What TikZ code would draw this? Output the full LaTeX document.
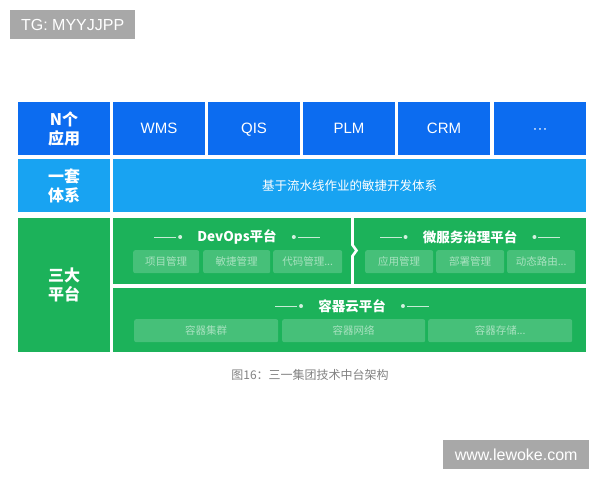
\documentclass[tikz,border=0pt]{standalone}
\usepackage{fontspec}
\setmainfont{Noto Sans CJK SC}
\newfontfamily\wmfont{Liberation Sans}
\definecolor{blueA}{RGB}{12,108,240}
\definecolor{blueB}{RGB}{24,163,242}
\definecolor{gr}{RGB}{28,178,90}
\definecolor{subf}{RGB}{70,192,121}
\definecolor{subt}{RGB}{168,226,192}
\definecolor{wmgray}{RGB}{168,168,168}
\definecolor{capgray}{RGB}{130,130,130}
\tikzset{
  cell/.style={anchor=north west, inner sep=0pt, outer sep=0pt, text=white, align=center},
  app/.style={cell, fill=blueA, minimum width=92pt, minimum height=53pt, text height=10.8pt, text depth=0pt, font=\wmfont\fontsize{15}{17}\selectfont},
  side/.style={cell, minimum width=92pt, font=\fontsize{16}{19}\selectfont\bfseries},
  subbox/.style={anchor=north west, inner sep=0pt, fill=subf, rounded corners=2pt, text=subt, minimum height=23pt, font=\fontsize{10.5}{12}\selectfont},
  ttl/.style={inner sep=0pt, text=white, font=\fontsize{13.5}{15}\selectfont\bfseries},
  deco/.style={draw=white!75!gr, line width=0.8pt},
  wm/.style={fill=wmgray, text=white, inner sep=0pt, font=\wmfont\fontsize{16}{18}\selectfont}
}
\begin{document}
\begin{tikzpicture}[x=1pt,y=-1pt]
\useasboundingbox (0,0) rectangle (600,480);
\fill[white] (0,0) rectangle (600,480);
% watermark top-left
\node[wm, minimum width=125pt, minimum height=29pt, anchor=north west] (tg) at (10,10) {TG: MYYJJPP};
% row 1
\node[side, fill=blueA, minimum height=53pt] (napp) at (18,102) {N个\\应用};
\node[app] (wms) at (113,102) {WMS};
\node[app] (qis) at (208,102) {QIS};
\node[app] (plm) at (303,102) {PLM};
\node[app] (crm) at (398,102) {CRM};
\node[app, text height=10pt] (more) at (494,102) {···};
% row 2
\node[side, fill=blueB, minimum height=53pt] (ytx) at (18,159) {一套\\体系};
\node[cell, fill=blueB, minimum width=473pt, minimum height=53pt, font=\fontsize{12.5}{14}\selectfont] (agile) at (113,159) {基于流水线作业的敏捷开发体系};
% row 3
\node[side, fill=gr, minimum height=134pt] (sdpt) at (18,218) {三大\\平台};
\node[cell, fill=gr, minimum width=473pt, minimum height=66pt] (upper) at (113,218) {};
\node[cell, fill=gr, minimum width=473pt, minimum height=64pt] (cloud) at (113,288) {};
% separator with chevron
\coordinate (s1) at (352.5,218);
\coordinate (s2) at (352.5,245);
\coordinate (s3) at (356.5,250.5);
\coordinate (s4) at (352.5,256);
\coordinate (s5) at (352.5,284);
\draw[white, line width=2.6pt, line join=miter] (s1) -- (s2) -- (s3) -- (s4) -- (s5);
% DevOps
\node[ttl] (devops) at (237,237) {DevOps平台};
\node[subbox, minimum width=66pt] (xm) at (133,250) {项目管理};
\node[subbox, minimum width=67pt] (mj) at (203,250) {敏捷管理};
\node[subbox, minimum width=69pt] (dm) at (273,250) {代码管理...};
% micro services
\node[ttl] (micro) at (470,237) {微服务治理平台};
\node[subbox, minimum width=68pt] (yy) at (365,250) {应用管理};
\node[subbox, minimum width=68pt] (bs) at (436,250) {部署管理};
\node[subbox, minimum width=68pt] (dt) at (507,250) {动态路由...};
% container cloud
\node[ttl] (rq) at (352,306) {容器云平台};
\node[subbox, minimum width=144pt] (jq) at (134,319) {容器集群};
\node[subbox, minimum width=143pt] (wl) at (282,319) {容器网络};
\node[subbox, minimum width=144pt] (cc) at (428,319) {容器存储...};
% title decorations
\foreach \t in {devops,micro,rq}{
  \fill[white!80!gr] ([xshift=-17pt]\t.west) circle (2pt);
  \draw[deco] ([xshift=-21pt]\t.west) -- ([xshift=-43pt]\t.west);
  \fill[white!80!gr] ([xshift=17pt]\t.east) circle (2pt);
  \draw[deco] ([xshift=21pt]\t.east) -- ([xshift=43pt]\t.east);
}
% caption
\node[text=capgray, font=\fontsize{12}{14}\selectfont] (cap) at (310,375) {图16：三一集团技术中台架构};
% watermark bottom-right
\node[wm, minimum width=146pt, minimum height=29pt, anchor=north west] (lw) at (443,440) {www.lewoke.com};
\end{tikzpicture}
\end{document}
